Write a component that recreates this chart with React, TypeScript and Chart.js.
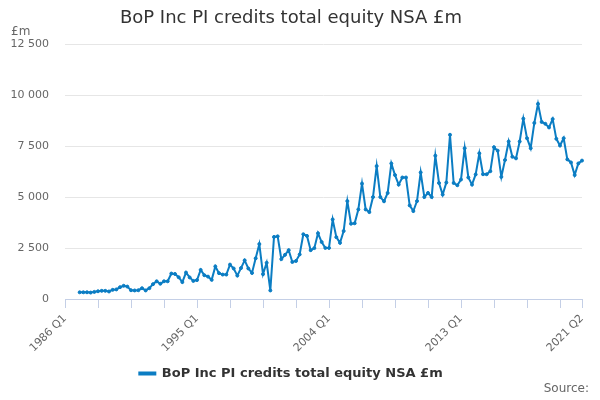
import React, { useEffect, useRef } from 'react';
import { Chart, registerables } from 'chart.js';

Chart.register(...registerables);

const seriesName = 'BoP Inc PI credits total equity NSA £m';

// quarter labels 1986 Q1 .. 2021 Q2
const quarters: string[] = [];
for (let y = 1986; y <= 2021; y++) {
  for (let q = 1; q <= 4; q++) {
    if (y === 2021 && q > 2) break;
    quarters.push(`${y} Q${q}`);
  }
}

// £m
const values: (number | null)[] = [
  null, null, null, null, 330, 330, 330, 315, 350, 380,
  400, 400, 370, 450, 470, 580, 650, 610, 430, 420,
  430, 530, 420, 530, 730, 870, 750, 870, 870, 1250,
  1230, 1070, 830, 1300, 1060, 890, 930, 1430, 1170, 1100,
  940, 1600, 1270, 1200, 1200, 1690, 1500, 1150, 1520, 1900,
  1500, 1280, 2000, 2700, 1220, 1780, 420, 3050, 3080, 1960,
  2170, 2400, 1820, 1870, 2190, 3180, 3100, 2400, 2500, 3230,
  2800, 2510, 2510, 3910, 3040, 2760, 3340, 4810, 3700, 3720,
  4400, 5670, 4400, 4270, 5010, 6530, 5010, 4800, 5210, 6660,
  6090, 5620, 5970, 5970, 4600, 4320, 4810, 6220, 5010, 5210,
  5010, 7040, 5700, 5130, 5720, 8070, 5700, 5590, 5870, 7410,
  5970, 5620, 6120, 7160, 6130, 6130, 6280, 7460, 7290, 6000,
  6830, 7740, 6990, 6910, 7740, 8860, 7900, 7410, 8650, 9590,
  8700, 8610, 8430, 8840, 7870, 7540, 7900, 6860, 6710, 6090,
  6660, 6800,
];

const tickIdx = [0, 9, 18, 27, 36, 45, 54, 63, 72, 81, 90, 99, 108, 117, 126, 135, 141];
const labelIdx = [0, 36, 72, 108, 141];

const blue = '#0b7dc3';
const axisCol = '#c4cfe6';
const font = '"DejaVu Sans", sans-serif';

export default function App() {
  const canvasRef = useRef<HTMLCanvasElement>(null);
  const chartRef = useRef<Chart | null>(null);

  useEffect(() => {
    if (!canvasRef.current) return;
    if (chartRef.current) { chartRef.current.destroy(); chartRef.current = null; }

    chartRef.current = new Chart(canvasRef.current, {
      type: 'line',
      data: {
        labels: quarters,
        datasets: [{
          label: seriesName,
          data: values,
          borderColor: blue,
          backgroundColor: blue,
          borderWidth: 2,
          pointRadius: 1.5,
          pointBorderWidth: 1,
          pointHoverRadius: 3,
          tension: 0,
        }],
      },
      options: {
        animation: false,
        responsive: false,
        layout: { padding: { left: 0, right: 18, top: 0, bottom: 10 } },
        plugins: {
          title: {
            display: true,
            text: seriesName,
            color: '#333333',
            font: { family: font, size: 18, weight: 'normal' },
            padding: { top: 8, bottom: 15 },
          },
          legend: {
            display: true,
            position: 'bottom',
            labels: {
              color: '#333333',
              font: { family: font, size: 13, weight: 'bold' },
              boxWidth: 16,
              boxHeight: 2,
              padding: 10,
            },
          },
          tooltip: { enabled: false },
        },
        scales: {
          x: {
            type: 'category',
            offset: false,
            afterBuildTicks: (axis: any) => {
              axis.ticks = axis.ticks.filter((t: any) => tickIdx.includes(t.value));
            },
            afterFit: (scale: any) => { scale.height = 58; },
            grid: {
              display: true,
              drawOnChartArea: false,
              drawTicks: true,
              tickLength: 9,
              color: axisCol,
              tickColor: axisCol,
              tickWidth: 1,
              lineWidth: 1,
            },
            border: { display: true, color: axisCol, width: 1 },
            ticks: {
              autoSkip: false,
              minRotation: 45,
              maxRotation: 45,
              padding: 4,
              color: '#666666',
              font: { family: font, size: 11 },
              callback: (v: any) => (labelIdx.includes(Number(v)) ? quarters[Number(v)] : ''),
            },
          },
          y: {
            min: 0,
            max: 12500,
            afterFit: (scale: any) => { scale.width = 65; },
            grid: { color: '#e6e6e6', drawTicks: false },
            border: { display: false },
            ticks: {
              stepSize: 2500,
              padding: 16,
              color: '#666666',
              font: { family: font, size: 11 },
              callback: (v: any) => String(v).replace(/\B(?=(\d{3})+(?!\d))/g, ' '),
            },
          },
        },
      },
    } as any);

    return () => { if (chartRef.current) { chartRef.current.destroy(); chartRef.current = null; } };
  }, []);

  return (
    <div style={{ position: 'absolute', left: 0, top: 0, width: 600, height: 400, background: '#fff', fontFamily: font }}>
      <canvas ref={canvasRef} width={600} height={400} />
      <div style={{ position: 'absolute', left: 11, top: 24, fontSize: 12, color: '#666' }}>£m</div>
      <div style={{ position: 'absolute', right: 11, top: 381, fontSize: 12, color: '#666' }}>Source:</div>
    </div>
  );
}
